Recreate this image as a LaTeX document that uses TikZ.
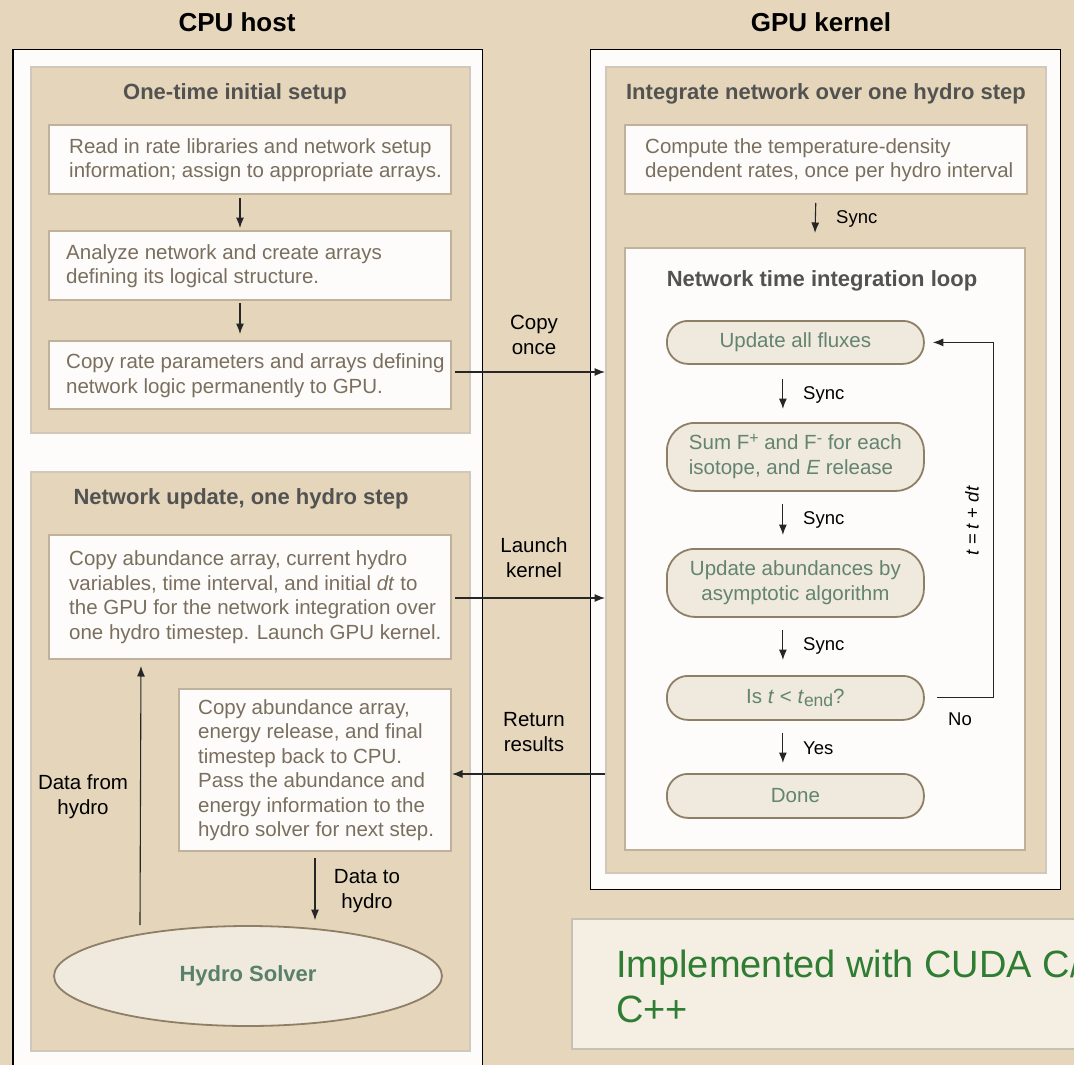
\documentclass[tikz,border=0pt]{standalone}
\usepackage{fontspec}
\setmainfont{Liberation Sans}
\usetikzlibrary{arrows.meta,shapes.geometric,calc}
\definecolor{bgc}{RGB}{229,214,188}
\definecolor{panelc}{RGB}{228,213,187}
\definecolor{panelborder}{RGB}{208,200,186}
\definecolor{wfill}{RGB}{253,252,250}
\definecolor{wborder}{RGB}{190,178,156}
\definecolor{btextc}{RGB}{122,110,94}
\definecolor{ttext}{RGB}{82,82,80}
\definecolor{pillfill}{RGB}{240,233,221}
\definecolor{pillborder}{RGB}{142,128,102}
\definecolor{pilltext}{RGB}{98,132,112}
\definecolor{hstext}{RGB}{88,128,106}
\definecolor{notefill}{RGB}{245,239,227}
\definecolor{noteborder}{RGB}{198,192,182}
\definecolor{notetext}{RGB}{46,125,50}
\tikzset{
 outerbox/.style={draw=black, line width=1.2pt, fill=wfill, rectangle, anchor=north west, inner sep=0pt},
 panelbox/.style={draw=panelborder, line width=2pt, fill=panelc, rectangle, anchor=north west, inner sep=0pt},
 wbox/.style={draw=wborder, line width=2pt, fill=wfill, rectangle, anchor=north west, inner sep=0pt},
 pill/.style={draw=pillborder, line width=1.8pt, fill=pillfill, rectangle, rounded corners=21pt, anchor=north west, inner sep=0pt, text=pilltext, font=\fontsize{20.5}{24.5}\selectfont, align=center},
 btext/.style={text=btextc, font=\fontsize{20.5}{24.5}\selectfont, align=left, anchor=west, inner sep=0pt},
 ptitle/.style={text=ttext, font=\bfseries\fontsize{22}{26}\selectfont, inner sep=0pt},
 htitle/.style={text=black, font=\bfseries\fontsize{26}{30}\selectfont, inner sep=0pt},
 lab/.style={text=black, font=\fontsize{20.5}{25}\selectfont, align=center, inner sep=0pt},
 slab/.style={text=black, font=\fontsize{18.5}{22}\selectfont, anchor=west, inner sep=0pt},
 arr/.style={-{Latex[length=10.5pt,width=8pt]}, line width=1.1pt, draw=black!85},
}
\begin{document}
\begin{tikzpicture}[x=1pt,y=-1pt]
\useasboundingbox (0,0) rectangle (1074,1065);
\clip (0,0) rectangle (1074,1065);
\fill[bgc] (0,0) rectangle (1074,1065);

% titles
\node[htitle] (cpuT) at (237,22) {CPU host};
\node[htitle] (gpuT) at (821,22) {GPU kernel};

% ---------------- CPU side
\node[outerbox, minimum width=469.5, minimum height=1040] (cpu) at (12.3,49) {};
\node[panelbox, minimum width=439, minimum height=366] (setup) at (30,66) {};
\node[ptitle] (setupT) at (235,94) {One-time initial setup};

\node[wbox, minimum width=402, minimum height=69] (b1) at (48,124) {};
\node[btext] (t1) at (69,160) {Read in rate libraries and network setup\\information; assign to appropriate arrays.};
\node[wbox, minimum width=402, minimum height=69] (b2) at (48,230) {};
\node[btext] (t2) at (66,266) {Analyze network and create arrays\\defining its logical structure.};
\node[wbox, minimum width=402, minimum height=68] (b3) at (48,340) {};
\node[btext] (t3) at (66,375.5) {Copy rate parameters and arrays defining\\network logic permanently to GPU.};

\draw[arr, shorten <=3pt, shorten >=2pt] ([xshift=-10pt]b1.south) -- ([xshift=-10pt]b2.north);
\draw[arr, shorten <=2pt, shorten >=6pt] ([xshift=-10pt]b2.south) -- ([xshift=-10pt]b3.north);

\node[panelbox, minimum width=439, minimum height=579] (upd) at (30,471) {};
\node[ptitle] (updT) at (241,499) {Network update, one hydro step};

\node[wbox, minimum width=402, minimum height=124] (b4) at (48,534) {};
\node[btext] (t4) at (69,597) {Copy abundance array, current hydro\\variables, time interval, and initial \textit{dt} to\\the GPU for the network integration over\\one hydro timestep. Launch GPU kernel.};
\node[wbox, minimum width=272, minimum height=162] (b5) at (178,688) {};
\node[btext] (t5) at (198,770) {Copy abundance array,\\energy release, and final\\timestep back to CPU.\\Pass the abundance and\\energy information to the\\hydro solver for next step.};

\node[ellipse, draw=pillborder, line width=1.8pt, fill=pillfill, minimum width=388, minimum height=100, inner sep=0pt, text=hstext, font=\bfseries\fontsize{22}{26}\selectfont] (hs) at (248,976) {Hydro Solver};

\draw[arr, shorten >=6pt] ([xshift=-108pt]hs.north) -- ([xshift=-109pt]b4.south);
\node[lab] (dfl) at (83,797) {Data from\\hydro};
\draw[arr, shorten <=6pt, shorten >=5pt] (b5.south) -- (b5.south |- hs.north);
\node[lab] (dtl) at (367,891) {Data to\\hydro};

% ---------------- GPU side
\node[outerbox, minimum width=470, minimum height=840] (gpu) at (590,49) {};
\node[panelbox, minimum width=440, minimum height=806] (integ) at (605,66) {};
\node[ptitle] (integT) at (826,94) {Integrate network over one hydro step};

\node[wbox, minimum width=402, minimum height=69] (comp) at (624,124) {};
\node[btext] (tc) at (645,160) {Compute the temperature-density\\dependent rates, once per hydro interval};

\node[wbox, minimum width=400, minimum height=602] (loop) at (624,247) {};
\node[ptitle] (loopT) at (822,281) {Network time integration loop};

\draw[arr, shorten <=8pt] ([xshift=-10pt]comp.south) -- ([xshift=-10pt,yshift=14pt]loop.north);
\node[slab] (s1) at (836,219) {Sync};

\node[pill, minimum width=257, minimum height=43] (flux) at (666,320) {Update all fluxes};
\node[pill, rounded corners=28pt, minimum width=257, minimum height=68] (sum) at (666,422) {\begin{tabular}{@{}l@{}}Sum F\raisebox{0.55ex}{\fontsize{16}{16}\selectfont +} and F\raisebox{0.55ex}{\fontsize{16}{16}\selectfont -} for each\\isotope, and \textit{E} release\end{tabular}};
\node[pill, rounded corners=28pt, minimum width=257, minimum height=68] (upab) at (666,548) {Update abundances by\\asymptotic algorithm};
\node[pill, minimum width=257, minimum height=44] (isq) at (666,675) {Is \textit{t} < \textit{t}\raisebox{-0.35ex}{\fontsize{17.5}{17.5}\selectfont end}?};
\node[pill, minimum width=257, minimum height=44] (done) at (666,773) {Done};

\draw[arr, shorten <=14pt, shorten >=13pt] ([xshift=-12.5pt]flux.south) -- ([xshift=-12.5pt]sum.north);
\node[slab] (s2) at (803,395) {Sync};
\draw[arr, shorten <=12pt, shorten >=13pt] ([xshift=-12.5pt]sum.south) -- ([xshift=-12.5pt]upab.north);
\node[slab] (s3) at (803,520) {Sync};
\draw[arr, shorten <=12pt, shorten >=15pt] ([xshift=-12.5pt]upab.south) -- ([xshift=-12.5pt]isq.north);
\node[slab] (s4) at (803,646) {Sync};
\draw[arr, shorten <=12pt, shorten >=10pt] ([xshift=-12.5pt]isq.south) -- ([xshift=-12.5pt]done.north);
\node[slab] (s5) at (803,748) {Yes};

\draw[line width=1.1pt, draw=black!85] ([xshift=12pt]isq.east) -- ++(57,0) coordinate (lc);
\draw[arr] (lc) |- ([xshift=8pt]flux.east);
\node[slab, anchor=center] (nol) at (960,719) {No};
\node[slab, anchor=center, rotate=90] (tdt) at (972,521) {\textit{t} = \textit{t} + \textit{dt}};

% ---------------- cross arrows
\draw[arr, shorten <=3pt] ([yshift=3pt]b3.east) -- ([yshift=3pt]b3.east -| integ.west);
\node[lab] (col) at (534,335) {Copy\\once};
\draw[arr, shorten <=3pt] ([yshift=-1pt]b4.east) -- ([yshift=-1pt]b4.east -| integ.west);
\node[lab] (lkl) at (534,558) {Launch\\kernel};
\draw[arr] ([yshift=-4pt]b5.east -| integ.west) -- ([yshift=-4pt]b5.east);
\node[lab] (rrl) at (534,732) {Return\\results};

% ---------------- note
\node[draw=noteborder, line width=2pt, fill=notefill, rectangle, anchor=north west, inner sep=0pt, minimum width=540, minimum height=130] (note) at (571,918) {};
\node[text=notetext, font=\fontsize{38}{45}\selectfont, align=left, anchor=west, inner sep=0pt] (notet) at (616,986) {Implemented with CUDA C/\\C++};
\end{tikzpicture}
\end{document}
